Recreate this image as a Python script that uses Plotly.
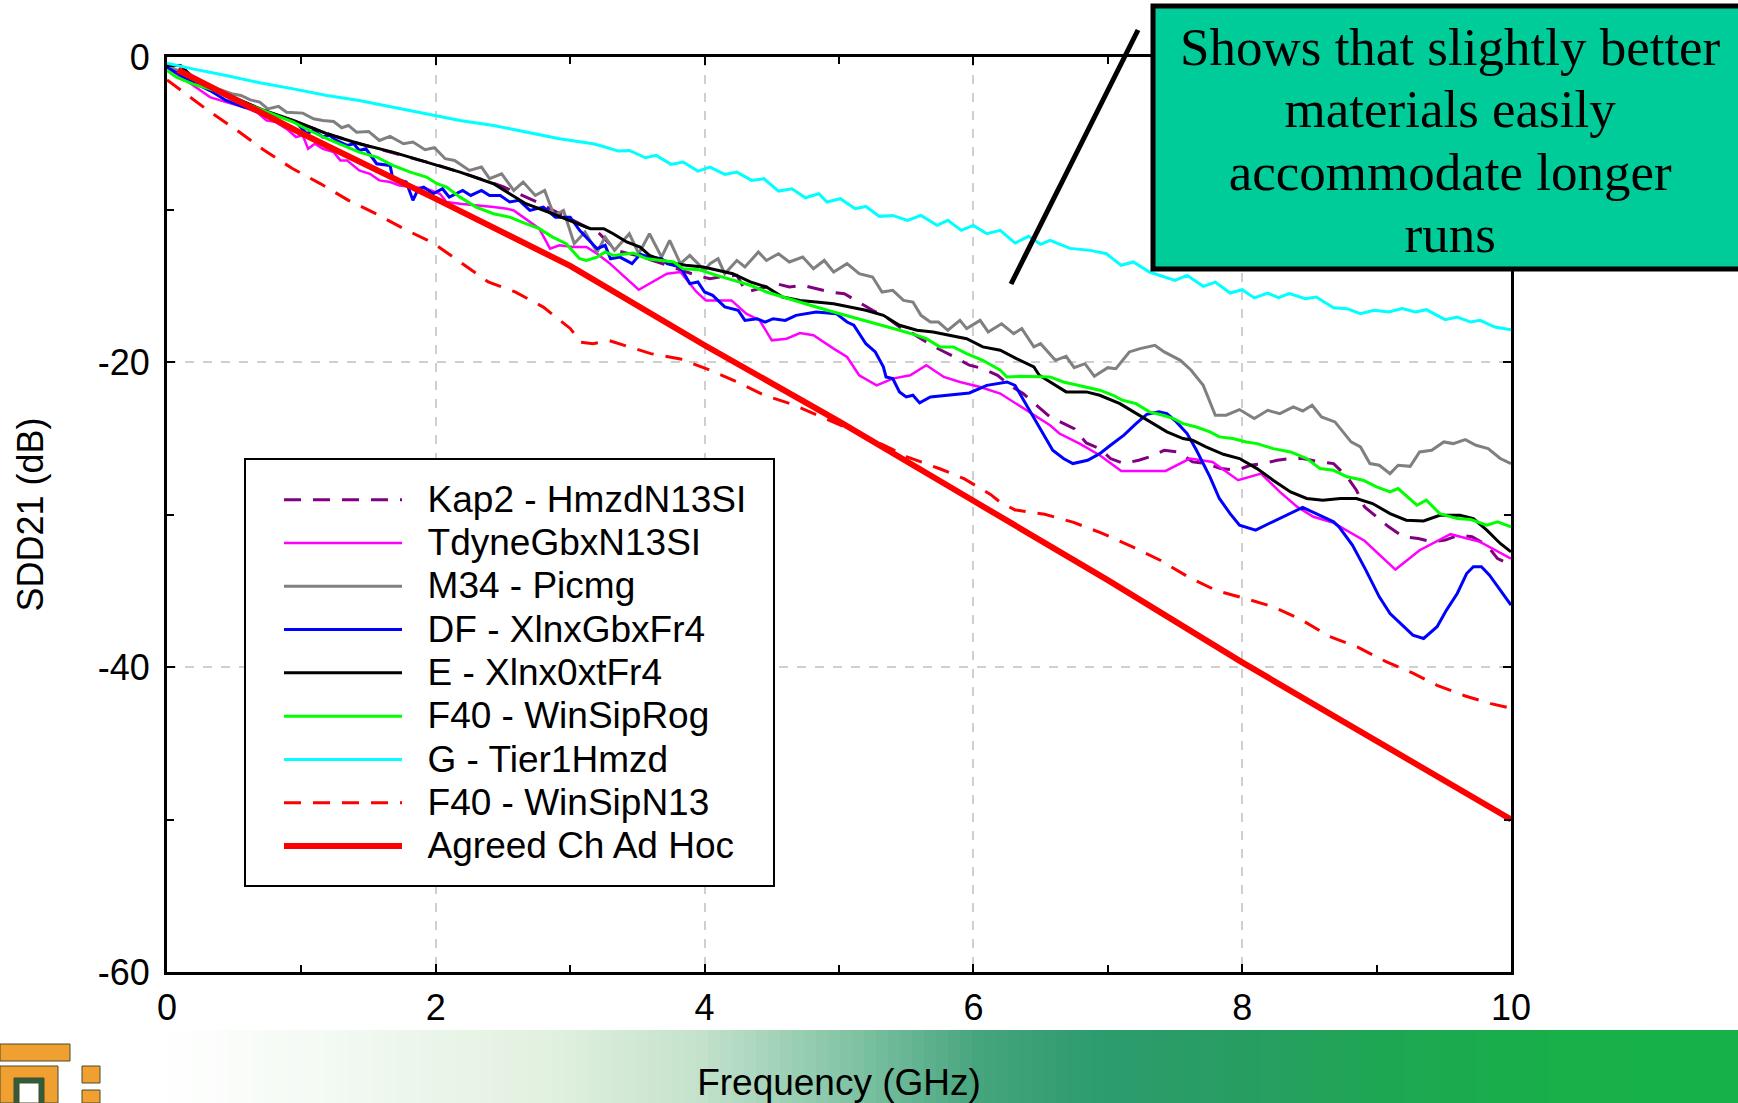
import plotly.graph_objects as go

FONT = "Liberation Sans, Arial, sans-serif"
SERIF = "Liberation Serif, Times New Roman, serif"

# ---------------- data (frequency GHz, SDD21 dB) ----------------
KAP2 = [(0.0,-0.6),(0.25,-1.6),(0.5,-2.7),(0.75,-3.6),(1.0,-4.4),(1.25,-5.2),(1.5,-5.85),(1.75,-6.45),
        (2.0,-7.05),(2.25,-7.75),(2.5,-8.5),(2.75,-9.5),(3.0,-10.6),(3.22,-11.6),(3.34,-12.68),(3.54,-13.12),
        (3.94,-14.32),(4.04,-14.54),(4.11,-14.43),(4.24,-14.32),(4.31,-15.41),(4.46,-15.08),(4.53,-14.86),
        (4.63,-15.08),(4.73,-14.97),(4.83,-15.19),(4.93,-15.41),(5.04,-15.52),(5.15,-16.07),(5.25,-16.61),
        (5.35,-17.05),(5.45,-17.70),(5.55,-18.14),(5.65,-18.69),(5.76,-19.23),(5.86,-19.67),(5.97,-20.21),
        (6.07,-20.43),(6.18,-20.87),(6.27,-21.53),(6.37,-22.07),(6.44,-22.62),(6.57,-23.60),(6.75,-24.37),
        (6.84,-25.31),(6.94,-25.68),(7.02,-26.33),(7.12,-26.66),(7.23,-26.44),(7.31,-26.22),(7.42,-25.79),
        (7.53,-25.90),(7.63,-26.55),(7.73,-26.66),(7.84,-26.99),(7.96,-27.10),(8.06,-26.77),(8.16,-26.66),
        (8.26,-26.44),(8.35,-26.33),(8.45,-26.33),(8.58,-26.55),(8.68,-26.66),(8.78,-27.53),(8.85,-28.41),
        (8.91,-29.50),(9.00,-30.15),(9.09,-30.81),(9.20,-31.46),(9.31,-31.57),(9.41,-31.79),(9.51,-31.68),
        (9.61,-31.35),(9.71,-31.46),(9.82,-32.01),(9.90,-32.89),(10.0,-33.3)]

TDYNE = [(0.00,-0.67),(0.14,-1.54),(0.32,-2.63),(0.44,-2.96),(0.57,-3.29),(0.67,-3.62),(0.74,-4.16),(0.81,-4.27),
         (0.89,-4.71),(0.96,-5.25),(1.01,-5.14),(1.05,-6.02),(1.10,-5.69),(1.16,-6.02),(1.24,-6.24),(1.29,-6.78),
         (1.34,-6.78),(1.43,-7.44),(1.51,-7.66),(1.58,-8.09),(1.66,-8.20),(1.73,-8.42),(1.83,-8.53),(1.93,-8.64),
         (2.03,-8.97),(2.08,-9.51),(2.18,-9.62),(2.33,-9.73),(2.43,-9.84),(2.53,-9.95),(2.58,-10.06),(2.65,-10.50),
         (2.72,-10.93),(2.77,-11.26),(2.85,-12.57),(2.92,-12.35),(3.02,-12.46),(3.12,-12.46),(3.20,-12.9),
         (3.29,-13.5),(3.51,-15.26),(3.72,-14.21),(3.82,-14.10),(3.94,-15.41),(4.01,-15.96),(4.20,-15.96),
         (4.31,-16.83),(4.41,-17.27),(4.50,-18.58),(4.61,-18.47),(4.71,-18.10),(4.81,-18.25),(4.96,-19.12),
         (5.06,-19.67),(5.15,-20.87),(5.28,-21.53),(5.40,-21.09),(5.53,-20.87),(5.65,-20.21),(5.78,-20.98),
         (5.90,-21.31),(6.05,-21.64),(6.20,-22.07),(6.32,-22.73),(6.45,-23.49),(6.57,-24.15),(6.64,-24.69),
         (6.79,-25.35),(6.94,-26.11),(7.10,-27.14),(7.43,-27.14),(7.61,-26.33),(7.78,-26.55),(7.97,-27.75),
         (8.14,-27.32),(8.28,-28.52),(8.41,-29.50),(8.53,-30.15),(8.68,-30.55),(8.91,-31.72),(9.14,-33.61),
         (9.32,-32.34),(9.55,-31.29),(9.77,-31.79),(10.0,-32.89)]

M34 = [(0.00,-0.56),(0.14,-1.10),(0.27,-1.65),(0.38,-2.09),(0.48,-2.41),(0.55,-2.52),(0.62,-2.81),(0.69,-2.96),
       (0.75,-3.40),(0.83,-3.24),(0.89,-3.62),(1.01,-3.68),(1.09,-4.05),(1.16,-4.16),(1.24,-4.23),(1.30,-4.64),
       (1.35,-4.49),(1.41,-4.93),(1.50,-4.88),(1.58,-5.47),(1.66,-5.21),(1.76,-5.69),(1.83,-5.58),(1.92,-6.08),
       (1.99,-5.95),(2.07,-6.67),(2.14,-6.78),(2.25,-7.44),(2.34,-7.22),(2.40,-7.98),(2.49,-7.66),(2.58,-8.75),
       (2.65,-8.20),(2.74,-9.08),(2.81,-8.75),(2.88,-10.39),(2.95,-10.06),(3.03,-12.24),(3.11,-11.48),
       (3.20,-12.79),(3.26,-11.81),(3.33,-12.68),(3.44,-11.59),(3.51,-12.90),(3.59,-11.59),(3.68,-13.12),
       (3.74,-12.03),(3.82,-13.55),(3.89,-13.01),(4.00,-13.99),(4.04,-13.55),(4.10,-13.23),(4.15,-14.21),
       (4.24,-13.34),(4.30,-13.77),(4.40,-12.79),(4.46,-13.34),(4.55,-12.90),(4.63,-13.44),(4.73,-13.12),
       (4.81,-13.88),(4.89,-13.34),(4.96,-14.10),(5.06,-13.55),(5.15,-14.21),(5.25,-14.43),(5.32,-15.41),
       (5.40,-15.30),(5.48,-15.96),(5.55,-16.07),(5.61,-16.94),(5.68,-17.38),(5.74,-17.38),(5.81,-17.92),
       (5.90,-17.27),(5.95,-17.81),(6.05,-17.27),(6.11,-18.03),(6.21,-17.49),(6.30,-18.14),(6.36,-17.81),
       (6.45,-19.01),(6.50,-18.80),(6.61,-19.89),(6.69,-19.63),(6.75,-20.37),(6.83,-20.11),(6.90,-20.94),
       (7.00,-20.37),(7.06,-20.44),(7.16,-19.34),(7.24,-19.12),(7.35,-18.91),(7.42,-19.34),(7.54,-19.89),
       (7.62,-20.54),(7.71,-21.53),(7.80,-23.49),(7.88,-23.49),(7.98,-23.12),(8.09,-23.71),(8.19,-23.17),
       (8.28,-23.39),(8.38,-22.95),(8.45,-23.21),(8.52,-22.84),(8.59,-23.60),(8.69,-23.93),(8.81,-25.24),
       (8.88,-25.57),(8.95,-26.66),(9.02,-26.77),(9.10,-27.32),(9.16,-26.77),(9.25,-26.84),(9.32,-25.90),
       (9.41,-25.79),(9.50,-25.24),(9.57,-25.35),(9.66,-25.09),(9.74,-25.46),(9.83,-25.68),(9.92,-26.33),
       (10.0,-26.66)]

DF = [(0.00,-0.67),(0.19,-1.65),(0.32,-2.20),(0.44,-2.85),(0.57,-3.29),(0.69,-3.51),(0.81,-3.83),(0.89,-4.05),
      (0.96,-4.27),(1.04,-5.03),(1.09,-4.82),(1.16,-5.25),(1.21,-5.14),(1.26,-5.47),(1.34,-5.80),(1.39,-5.69),
      (1.43,-6.13),(1.48,-6.02),(1.56,-7.00),(1.66,-7.11),(1.68,-7.98),(1.78,-8.20),(1.83,-9.40),(1.87,-8.64),
      (1.91,-8.53),(1.98,-8.97),(2.05,-8.64),(2.10,-9.19),(2.15,-8.97),(2.20,-8.75),(2.26,-9.08),(2.34,-8.75),
      (2.40,-9.08),(2.48,-9.08),(2.55,-9.51),(2.62,-9.40),(2.70,-10.06),(2.80,-9.84),(2.89,-10.50),(3.00,-10.50),
      (3.07,-11.37),(3.13,-11.92),(3.20,-12.57),(3.26,-12.35),(3.30,-13.23),(3.37,-13.12),(3.46,-13.55),
      (3.52,-12.94),(3.59,-13.12),(3.68,-13.23),(3.72,-13.55),(3.82,-13.77),(3.89,-14.86),(3.95,-14.75),
      (4.00,-15.41),(4.06,-15.63),(4.15,-16.39),(4.25,-16.61),(4.30,-17.27),(4.39,-17.16),(4.45,-17.38),
      (4.51,-17.16),(4.60,-17.27),(4.68,-16.94),(4.83,-16.72),(4.98,-16.83),(5.06,-17.38),(5.11,-17.59),
      (5.20,-18.80),(5.27,-19.34),(5.33,-20.32),(5.35,-20.98),(5.40,-21.09),(5.45,-21.96),(5.50,-22.29),
      (5.55,-22.18),(5.60,-22.68),(5.68,-22.29),(5.82,-22.18),(5.97,-22.03),(6.10,-21.53),(6.25,-21.31),
      (6.31,-21.53),(6.36,-22.29),(6.42,-23.16),(6.49,-24.26),(6.54,-25.02),(6.59,-25.79),(6.67,-26.33),
      (6.74,-26.66),(6.85,-26.44),(6.94,-26.01),(7.02,-25.46),(7.12,-24.80),(7.21,-24.04),(7.29,-23.43),
      (7.38,-23.27),(7.44,-23.38),(7.51,-23.93),(7.59,-24.69),(7.66,-25.79),(7.76,-27.53),(7.83,-28.95),
      (7.91,-29.94),(7.98,-30.70),(8.10,-31.03),(8.20,-30.59),(8.33,-30.05),(8.45,-29.54),(8.55,-29.94),
      (8.68,-30.48),(8.72,-30.81),(8.82,-32.01),(8.92,-33.65),(9.02,-35.40),(9.10,-36.49),(9.20,-37.36),
      (9.27,-37.91),(9.35,-38.13),(9.45,-37.36),(9.52,-36.27),(9.60,-35.18),(9.67,-33.87),(9.72,-33.43),
      (9.78,-33.43),(9.84,-33.98),(9.92,-34.96),(10.0,-35.94)]

E_XLNX = [(0.00,-0.56),(0.10,-0.56),(0.19,-1.32),(0.44,-2.41),(0.69,-3.40),(0.94,-4.16),(1.19,-5.03),(1.43,-5.69),
          (1.68,-6.24),(1.93,-6.89),(2.18,-7.55),(2.43,-8.31),(2.55,-8.95),(2.67,-9.62),(2.87,-10.28),
          (3.05,-10.93),(3.15,-11.26),(3.25,-11.26),(3.32,-11.59),(3.42,-12.13),(3.52,-12.46),(3.59,-13.01),
          (3.69,-13.34),(3.79,-13.55),(3.86,-13.66),(3.99,-13.77),(4.09,-13.99),(4.21,-14.21),(4.34,-14.75),
          (4.46,-15.08),(4.58,-15.74),(4.71,-15.96),(4.83,-16.07),(4.96,-16.18),(5.08,-16.39),(5.20,-16.61),
          (5.33,-16.94),(5.45,-17.59),(5.58,-17.92),(5.70,-18.03),(5.82,-18.25),(5.95,-18.47),(6.07,-19.01),
          (6.20,-19.23),(6.32,-19.78),(6.45,-20.32),(6.49,-20.87),(6.59,-21.42),(6.69,-21.96),(6.84,-21.96),
          (6.94,-22.18),(7.09,-22.73),(7.21,-23.38),(7.34,-24.04),(7.44,-24.58),(7.56,-25.02),(7.63,-25.13),
          (7.73,-25.57),(7.86,-26.05),(7.98,-26.33),(8.11,-26.99),(8.23,-27.75),(8.36,-28.52),(8.48,-28.95),
          (8.60,-29.06),(8.73,-28.95),(8.85,-28.95),(8.97,-29.28),(9.10,-29.94),(9.22,-30.37),(9.35,-30.42),
          (9.47,-30.05),(9.62,-30.05),(9.72,-30.27),(9.82,-31.03),(9.92,-31.90),(10.0,-32.45)]

F40_ROG = [(0.00,-0.88),(0.07,-1.32),(0.19,-1.76),(0.32,-2.09),(0.44,-2.41),(0.59,-3.07),(0.69,-3.40),(0.81,-3.83),
           (0.94,-4.27),(1.06,-4.82),(1.19,-5.36),(1.31,-5.80),(1.43,-6.24),(1.56,-6.56),(1.68,-7.11),(1.81,-7.55),
           (1.93,-7.87),(2.01,-8.31),(2.08,-8.53),(2.18,-9.19),(2.30,-9.84),(2.43,-10.28),(2.55,-10.50),
           (2.67,-10.93),(2.77,-11.26),(2.87,-11.81),(2.97,-12.24),(3.07,-13.23),(3.12,-13.34),(3.20,-13.12),
           (3.26,-12.79),(3.32,-13.01),(3.47,-12.85),(3.57,-13.23),(3.67,-13.34),(3.77,-13.44),(3.84,-13.88),
           (3.96,-13.95),(4.09,-14.32),(4.21,-14.65),(4.34,-14.97),(4.46,-15.41),(4.58,-15.74),(4.71,-16.07),
           (4.83,-16.39),(4.96,-16.72),(5.08,-17.01),(5.20,-17.27),(5.33,-17.59),(5.45,-17.92),(5.58,-18.25),
           (5.65,-18.47),(5.75,-19.01),(5.85,-19.01),(5.95,-19.45),(6.07,-19.89),(6.20,-20.54),(6.25,-20.98),
           (6.35,-20.94),(6.45,-20.98),(6.57,-20.98),(6.67,-21.31),(6.84,-21.64),(6.94,-21.85),(7.04,-22.18),
           (7.11,-22.51),(7.21,-22.73),(7.31,-23.27),(7.41,-23.49),(7.49,-23.71),(7.56,-24.04),(7.66,-24.26),
           (7.76,-24.58),(7.83,-24.91),(7.93,-25.02),(8.03,-25.24),(8.11,-25.35),(8.23,-25.68),(8.36,-25.90),
           (8.48,-26.33),(8.58,-26.99),(8.68,-27.10),(8.78,-27.53),(8.90,-27.75),(9.00,-28.19),(9.10,-28.52),
           (9.16,-28.30),(9.22,-28.74),(9.30,-29.39),(9.37,-29.06),(9.47,-29.94),(9.60,-30.27),(9.70,-30.33),
           (9.82,-30.70),(9.90,-30.48),(10.0,-30.81)]

G_TIER1 = [(0.00,-0.40),(0.19,-0.78),(0.44,-1.21),(0.69,-1.69),(0.94,-2.09),(1.19,-2.52),(1.43,-2.85),(1.68,-3.29),
           (1.93,-3.72),(2.18,-4.16),(2.43,-4.49),(2.67,-4.93),(2.92,-5.36),(3.17,-5.69),(3.22,-5.80),(3.36,-6.17),
           (3.44,-6.13),(3.56,-6.61),(3.64,-6.45),(3.75,-7.04),(3.84,-6.89),(3.95,-7.48),(4.04,-7.22),(4.15,-7.70),
           (4.24,-7.55),(4.35,-8.09),(4.44,-7.98),(4.55,-8.79),(4.65,-8.64),(4.75,-9.23),(4.85,-8.97),(4.91,-9.51),
           (5.01,-9.29),(5.12,-9.95),(5.20,-9.80),(5.30,-10.45),(5.40,-10.39),(5.51,-10.71),(5.61,-10.39),
           (5.73,-11.04),(5.81,-10.71),(5.91,-11.37),(6.00,-11.04),(6.10,-11.59),(6.20,-11.37),(6.31,-12.20),
           (6.41,-11.76),(6.50,-12.28),(6.57,-12.02),(6.72,-12.55),(6.87,-12.68),(6.99,-12.90),(7.10,-13.66),
           (7.19,-13.44),(7.31,-14.10),(7.50,-14.65),(7.59,-14.32),(7.71,-15.04),(7.80,-14.76),(7.91,-15.48),
           (8.00,-15.26),(8.09,-15.80),(8.19,-15.48),(8.27,-15.78),(8.35,-15.52),(8.47,-15.85),(8.55,-15.74),
           (8.68,-16.44),(8.78,-16.50),(8.88,-16.83),(8.98,-16.61),(9.09,-16.72),(9.19,-16.50),(9.29,-16.72),
           (9.37,-16.57),(9.51,-17.22),(9.60,-17.05),(9.70,-17.38),(9.77,-17.27),(9.88,-17.71),(10.0,-17.88)]

F40_N13 = [(0.00,-1.5),(0.12,-2.3),(0.32,-3.6),(0.52,-4.8),(0.72,-6.1),(0.93,-7.3),(1.14,-8.3),(1.35,-9.4),
           (1.56,-10.3),(1.77,-11.3),(1.98,-12.2),(2.19,-13.5),(2.39,-14.75),(2.59,-15.4),(2.80,-16.4),(3.00,-17.8),
           (3.08,-18.7),(3.17,-18.8),(3.29,-18.6),(3.60,-19.45),(3.82,-19.8),(4.03,-20.5),(4.24,-21.3),(4.45,-22.2),
           (4.66,-22.8),(4.87,-23.6),(5.08,-24.4),(5.39,-25.7),(5.50,-26.2),(5.75,-27.0),(5.93,-27.65),(6.13,-28.7),
           (6.20,-29.2),(6.31,-29.7),(6.53,-29.98),(6.74,-30.5),(6.95,-31.2),(7.18,-32.1),(7.39,-33.0),(7.60,-34.1),
           (7.81,-35.0),(8.02,-35.5),(8.23,-36.05),(8.44,-36.9),(8.65,-38.0),(8.86,-38.7),(9.07,-39.65),(9.27,-40.4),
           (9.45,-41.2),(9.66,-41.9),(9.85,-42.4),(10.0,-42.7)]

AGREED = [(0.08,-0.85),(0.5,-2.75),(1.0,-5.0),(2.0,-9.3),(3.0,-13.7),(4.0,-18.9),(5.0,-23.9),(6.0,-29.1),
          (7.0,-34.3),(8.0,-39.7),(9.0,-44.9),(10.0,-50.0)]

SERIES_NAMES = ["Kap2 - HmzdN13SI", "TdyneGbxN13SI", "M34 - Picmg", "DF - XlnxGbxFr4", "E - Xlnx0xtFr4",
                "F40 - WinSipRog", "G - Tier1Hmzd", "F40 - WinSipN13", "Agreed Ch Ad Hoc"]
SERIES_DATA = [KAP2, TDYNE, M34, DF, E_XLNX, F40_ROG, G_TIER1, F40_N13, AGREED]
SERIES_COLORS = ["#800080", "#FF00FF", "#808080", "#0000FF", "#000000", "#00FF00", "#00FFFF", "#FF0000", "#FF0000"]
SERIES_WIDTHS = [3, 2.5, 3, 3, 3, 3, 3, 3, 6]
SERIES_DASH = ["17px,12px", "solid", "solid", "solid", "solid", "solid", "solid", "17px,12px", "solid"]

X_TICKS = [0, 2, 4, 6, 8, 10]
Y_TICKS = [-60, -40, -20, 0]
Y_TICKTEXT = ["-60", "-40", "-20", "0"]
NOTE_LINES = ["Shows that slightly better", "materials easily", "accommodate longer", "runs"]

# ---------------- figure ----------------
W, H = 1738, 1103
ML, MR, MT, MB = 167, 227, 57, 131
PW, PH = W - ML - MR, H - MT - MB


def px_to_paper_x(px):
    return (px - ML) / PW


def px_to_paper_y(py):
    return 1 - (py - MT) / PH


fig = go.Figure()
for name, pts, col, wd, ds in zip(SERIES_NAMES, SERIES_DATA, SERIES_COLORS, SERIES_WIDTHS, SERIES_DASH):
    fig.add_trace(go.Scatter(
        x=[p[0] for p in pts], y=[p[1] for p in pts], mode="lines",
        name='<span style="font-size:37px">&nbsp;&nbsp;' + name + '</span>',
        line=dict(color=col, width=wd, dash=ds),
    ))

shapes = []
# bottom banner gradient (decoration)
stops = [(0, (255, 255, 255)), (170, (255, 255, 255)), (350, (242, 249, 242)), (550, (226, 241, 224)),
         (700, (196, 226, 204)), (850, (130, 196, 165)), (980, (70, 165, 125)), (1100, (45, 156, 110)),
         (1250, (40, 158, 98)), (1400, (30, 168, 82)), (1550, (24, 176, 74)), (1740, (22, 178, 72))]


def grad(px):
    for (a, ca), (b, cb) in zip(stops[:-1], stops[1:]):
        if a <= px <= b:
            t = (px - a) / (b - a) if b > a else 0
            return tuple(int(ca[i] + (cb[i] - ca[i]) * t) for i in range(3))
    return stops[-1][1]


step = 12
for px in range(0, 1740, step):
    c = grad(px + step / 2)
    shapes.append(dict(type="rect", xref="paper", yref="paper",
                       x0=px_to_paper_x(px), x1=px_to_paper_x(px + step + 1),
                       y0=px_to_paper_y(1030), y1=px_to_paper_y(1110),
                       fillcolor="rgb(%d,%d,%d)" % c, line=dict(width=0), layer="below"))

# small logo (decoration)
ORANGE = "#F0A030"
for (x0, y0, x1, y1, col) in [(0, 1044, 70, 1061, ORANGE), (0, 1066, 58, 1103, ORANGE),
                              (14, 1078, 44, 1103, "#2E5E3A"), (19, 1083, 39, 1103, "white"),
                              (82, 1066, 100, 1083, ORANGE), (82, 1090, 100, 1103, ORANGE)]:
    shapes.append(dict(type="rect", xref="paper", yref="paper",
                       x0=px_to_paper_x(x0), x1=px_to_paper_x(x1),
                       y0=px_to_paper_y(y1), y1=px_to_paper_y(y0),
                       fillcolor=col, line=dict(color="#4a4a2a", width=1), layer="above"))

# legend frame
shapes.append(dict(type="rect", xref="paper", yref="paper",
                   x0=px_to_paper_x(245), x1=px_to_paper_x(774),
                   y0=px_to_paper_y(886), y1=px_to_paper_y(459),
                   fillcolor="white", line=dict(color="black", width=2), layer="above"))

# callout box and pointer
shapes.append(dict(type="rect", xref="paper", yref="paper",
                   x0=px_to_paper_x(1153), x1=px_to_paper_x(1760),
                   y0=px_to_paper_y(269), y1=px_to_paper_y(6),
                   fillcolor="#00CC99", line=dict(color="black", width=5), layer="above"))
shapes.append(dict(type="line", xref="paper", yref="paper",
                   x0=px_to_paper_x(1138), y0=px_to_paper_y(30),
                   x1=px_to_paper_x(1011), y1=px_to_paper_y(284),
                   line=dict(color="black", width=5), layer="above"))

note_text = "<br>".join('<span style="font-size:53px">' + s + '</span>' for s in NOTE_LINES)
annotations = [dict(text=note_text, xref="paper", yref="paper",
                    x=px_to_paper_x(1450), y=px_to_paper_y(141),
                    xanchor="center", yanchor="middle", showarrow=False, align="center",
                    font=dict(family=SERIF, size=48, color="black"))]

axis_common = dict(
    showline=True, linecolor="black", linewidth=3, mirror="ticks",
    ticks="inside", ticklen=8, tickwidth=2, tickcolor="black",
    showgrid=True, gridcolor="#cfcfcf", gridwidth=1.5, griddash="dash",
    zeroline=False, tickfont=dict(family=FONT, size=36, color="black"),
)

fig.update_layout(
    width=W, height=H,
    margin=dict(l=ML, r=MR, t=MT, b=MB, autoexpand=False),
    paper_bgcolor="white", plot_bgcolor="white",
    font=dict(family=FONT, color="black"),
    xaxis=dict(range=[0, 10], tickvals=X_TICKS, automargin=False, ticklabelstandoff=2,
               minor=dict(dtick=1, ticks="inside", ticklen=7, tickwidth=2, tickcolor="black", showgrid=False),
               title=dict(text="Frequency (GHz)", font=dict(family=FONT, size=37, color="black"), standoff=45),
               **axis_common),
    yaxis=dict(range=[-60, 0], tickvals=Y_TICKS, ticktext=Y_TICKTEXT, automargin=False,
               ticklabelstandoff=7,
               minor=dict(dtick=10, ticks="inside", ticklen=7, tickwidth=2, tickcolor="black", showgrid=False),
               title=dict(text="SDD21 (dB)", font=dict(family=FONT, size=36, color="black"), standoff=44),
               **axis_common),
    legend=dict(x=px_to_paper_x(279), y=px_to_paper_y(473), xanchor="left", yanchor="top",
                bgcolor="rgba(0,0,0,0)", borderwidth=0,
                font=dict(family=FONT, size=31, color="black"), itemwidth=118),
    shapes=shapes,
    annotations=annotations,
)

fig.write_html(
    "out.html",
    config={"displayModeBar": False},
    post_script="document.body.style.margin='0';document.body.style.overflow='hidden';",
)
